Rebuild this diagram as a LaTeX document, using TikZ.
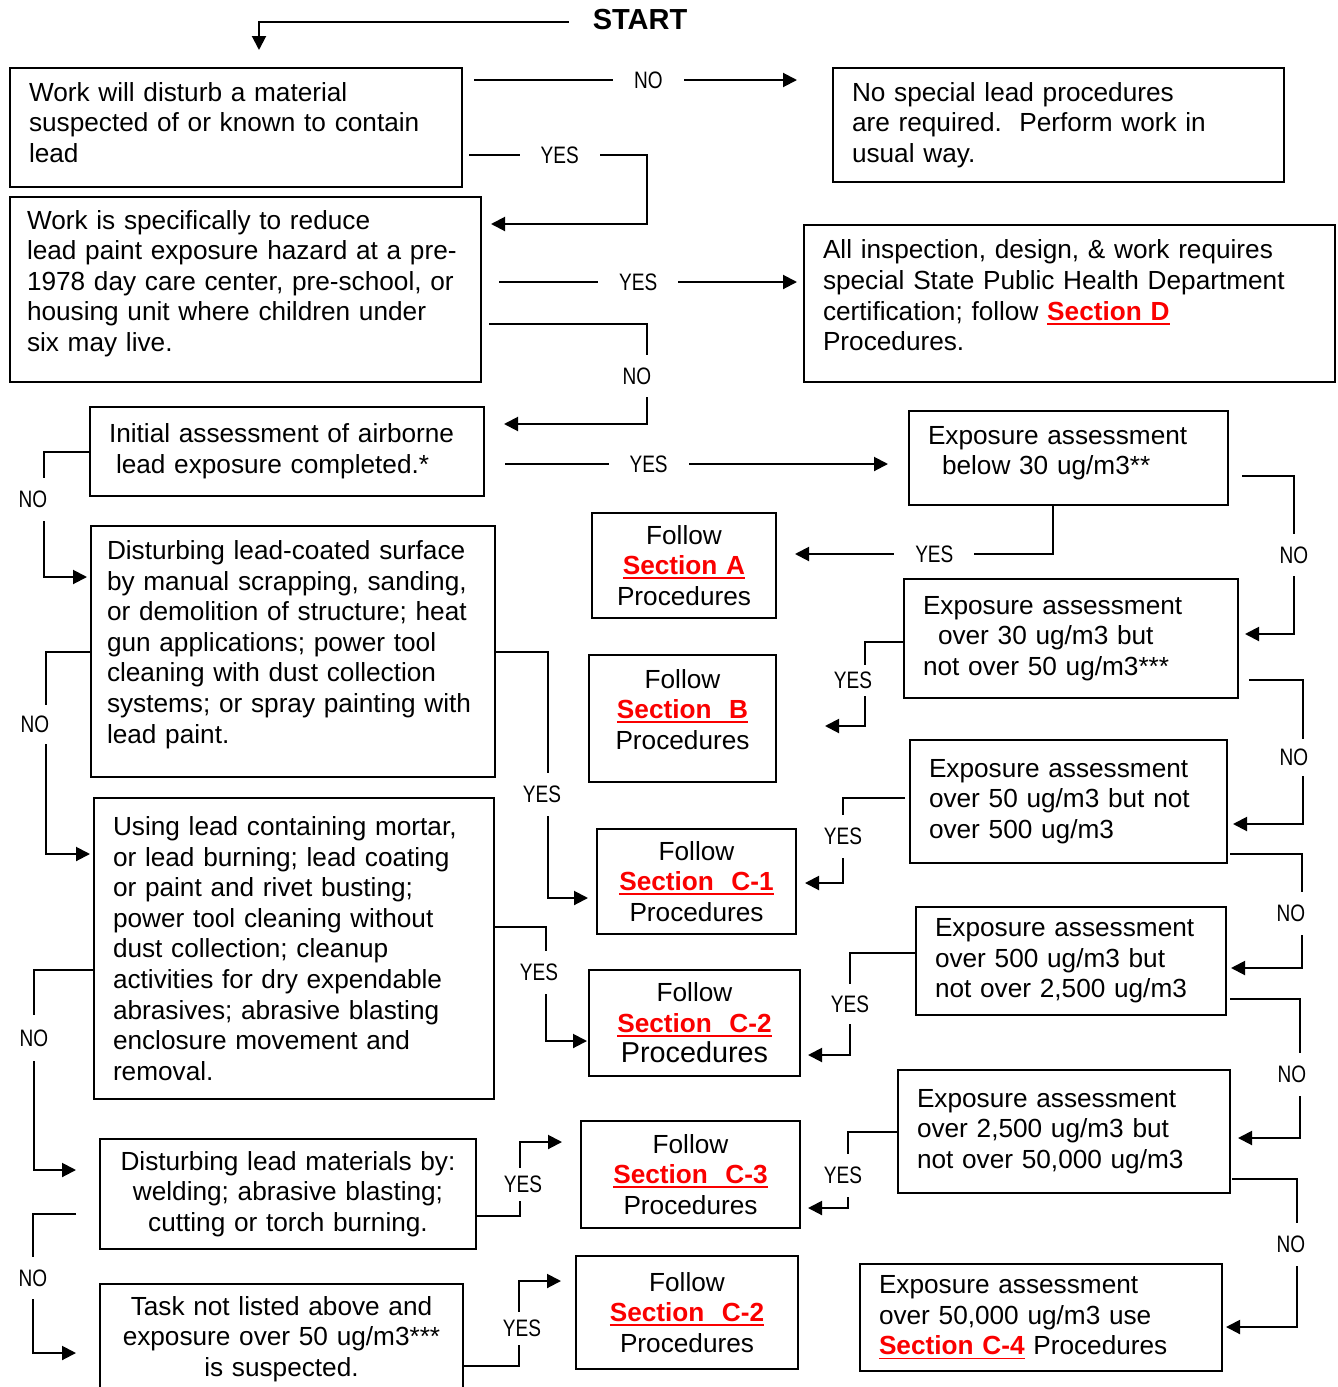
\documentclass[tikz,border=0pt]{standalone}
\usepackage{fontspec}
\setmainfont{Liberation Sans}
\newfontfamily\lblfont[FakeStretch=0.8]{Liberation Sans}
\usetikzlibrary{calc,arrows.meta}
\definecolor{sectred}{RGB}{250,0,0}
\newlength\sectwd
\newcommand{\sectlink}[1]{\settowidth\sectwd{\bfseries #1}%
  \textcolor{sectred}{\bfseries\rlap{\rule[-2.2pt]{\sectwd}{0.9pt}}#1}}
\newcommand{\padbelow}[1]{\par\nointerlineskip\vbox to #1{}}

\begin{document}
\begin{tikzpicture}[x=0.5pt,y=-0.5pt,>={Triangle[length=7pt,width=7pt]},
  box/.style={draw,line width=1pt,anchor=north west,inner xsep=9.5pt,inner ysep=0pt,
    align=left,font={\fontsize{13.1}{15.3}\selectfont}},
  follow/.style={box,inner xsep=2pt,align=center},
  hlbl/.style={fill=white,font={\lblfont\fontsize{11.9}{13}\selectfont},inner xsep=10.5pt,inner ysep=1pt},
  vlbl/.style={fill=white,font={\lblfont\fontsize{11.9}{13}\selectfont},inner xsep=1pt,inner ysep=6.5pt},
  conn/.style={line width=1pt}]
  \useasboundingbox (0,0) rectangle (1338,1387);

  \node[font={\bfseries\fontsize{14.5}{17}\selectfont}] (start) at (640,20) {START};

  \node[box,text width=207pt,minimum height=59.5pt] (b1) at (9,67)
    {Work will disturb a material\\suspected of or known to contain\\lead\padbelow{5pt}};
  \node[box,text width=206.5pt,minimum height=57pt] (b2) at (832,67)
    {No special lead procedures\\are required.\ \ Perform work in\\usual way.};
  \node[box,inner xsep=8.5pt,text width=218.5pt,minimum height=92.5pt] (b3) at (9,196)
    {Work is specifically to reduce\\lead paint exposure hazard at a pre-\\1978 day care center, pre-school, or\\housing unit where children under\\six may live.\padbelow{6pt}};
  \node[box,text width=246.5pt,minimum height=78.5pt] (b4) at (803,224)
    {All inspection, design, \& work requires\\special State Public Health Department\\certification; follow \sectlink{Section D}\\Procedures.\padbelow{8pt}};
  \node[box,text width=178pt,minimum height=44.5pt] (b5) at (89,406)
    {Initial assessment of airborne\\\hspace*{3.5pt}lead exposure completed.*};
  \node[box,text width=140.5pt,minimum height=47pt] (b6) at (908,410)
    {Exposure assessment\\\hspace*{7pt}below 30 ug/m3**\padbelow{5pt}};
  \node[box,inner xsep=8pt,text width=186pt,minimum height=125.5pt] (b7) at (90,525)
    {Disturbing lead-coated surface\\by manual scrapping, sanding,\\or demolition of structure; heat\\gun applications; power tool\\cleaning with dust collection\\systems; or spray painting with\\lead paint.\padbelow{7pt}};
  \node[follow,text width=88pt,minimum height=52.5pt] (b8) at (591,512)
    {Follow\\\sectlink{Section A}\\Procedures};
  \node[box,text width=148pt,minimum height=59.5pt] (b9) at (903,578)
    {Exposure assessment\\\hspace*{7.5pt}over 30 ug/m3 but\\not over 50 ug/m3***};
  \node[follow,text width=89.5pt,minimum height=63.5pt] (b10) at (588,654)
    {Follow\\\sectlink{Section\ \ B}\\Procedures\padbelow{9pt}};
  \node[box,text width=139.5pt,minimum height=61.5pt] (b11) at (909,739)
    {Exposure assessment\\over 50 ug/m3 but not\\over 500 ug/m3};
  \node[follow,text width=95.5pt,minimum height=52.5pt] (b12) at (596,828)
    {Follow\\\sectlink{Section\ \ C-1}\\Procedures};
  \node[box,text width=136pt,minimum height=54pt] (b13) at (915,906)
    {Exposure assessment\\over 500 ug/m3 but\\not over 2,500 ug/m3};
  \node[follow,text width=101.5pt,minimum height=53pt] (b14) at (588,969)
    {Follow\\\sectlink{Section\ \ C-2}\\{\fontsize{14.4}{15.3}\selectfont Procedures}};
  \node[box,text width=181pt,minimum height=150.5pt] (b15) at (93,797)
    {Using lead containing mortar,\\or lead burning; lead coating\\or paint and rivet busting;\\power tool cleaning without\\dust collection; cleanup\\activities for dry expendable\\abrasives; abrasive blasting\\enclosure movement and\\removal.};
  \node[follow,text width=184pt,minimum height=55pt] (b16) at (99,1138)
    {Disturbing lead materials by:\\welding; abrasive blasting;\\cutting or torch burning.};
  \node[follow,text width=105.5pt,minimum height=53.5pt] (b17) at (580,1120)
    {Follow\\\sectlink{Section\ \ C-3}\\Procedures};
  \node[box,text width=147pt,minimum height=61.5pt] (b18) at (897,1069)
    {Exposure assessment\\over 2,500 ug/m3 but\\not over 50,000 ug/m3};
  \node[box,text width=162pt,minimum height=53.5pt] (b19) at (859,1263)
    {Exposure assessment\\over 50,000 ug/m3 use\\\sectlink{Section C-4} Procedures};
  \node[follow,text width=177.5pt,minimum height=55pt] (b20) at (99,1283)
    {Task not listed above and\hspace*{6pt}\\exposure over 50 ug/m3***\hspace*{6pt}\\is suspected.\hspace*{6pt}};
  \node[follow,text width=107pt,minimum height=56.5pt] (b21) at (575,1255)
    {Follow\\\sectlink{Section\ \ C-2}\\Procedures};

  \draw[conn,->] ($(start.west)+(-17,2)$) -| ($(b1.north)+(23,-17)$);
  \draw[conn,->] ($(b1.north east)+(11,13)$) -- node[hlbl,pos=.54]{NO} ($(b2.north west)+(-35,13)$);
  \draw[conn,->] ($(b1.south east)+(6,-33)$) -- node[hlbl,pos=.51]{YES} ++(178,0) |- ($(b3.north east)+(9,28)$);
  \draw[conn,->] ($(b3.north east)+(17,86)$) -- node[hlbl,pos=.467]{YES} ($(b4.north west)+(-6,58)$);
  \draw[conn,->] ($(b3.north east)+(7,128)$) -- ++(158,0) |- node[vlbl,pos=.26,xshift=-5pt]{NO} ($(b5.north east)+(19,18)$);
  \draw[conn,->] ($(b5.east)+(20,12.5)$) -- node[hlbl,pos=.375]{YES} ($(b6.west)+(-20,6)$);
  \draw[conn,->] (b5.west) -- ++(-45,0) |- node[vlbl,pos=.19,xshift=-5.5pt]{NO} ($(b7.west)+(-3,-74.5)$);
  \draw[conn,->] ($(b6.south)+(-15.5,0)$) |- node[hlbl,pos=.73]{YES} ($(b8.east)+(18,-11.5)$);
  \draw[conn,->] ($(b6.east)+(13,18)$) -- ++(52,0) |- node[vlbl,pos=.25]{NO} ($(b9.east)+(6,-4.5)$);
  \draw[conn,->] ($(b9.west)+(0,3.5)$) -- ++(-38,0) |- node[vlbl,pos=.23,xshift=-6pt,inner ysep=3.5pt]{YES} ($(b10.east)+(48,7.5)$);
  \draw[conn,->] ($(b9.east)+(10,41.5)$) -- ++(54,0) |- node[vlbl,pos=.27,xshift=-4.5pt,inner ysep=5pt]{NO} ($(b11.east)+(5,22.5)$);
  \draw[conn,->] ($(b11.west)+(-4,-3.5)$) -- ++(-62,0) |- node[vlbl,pos=.225]{YES} ($(b12.east)+(8,1.5)$);
  \draw[conn,->] (b7.east) -- ++(52,0) |- node[vlbl,pos=.29,xshift=-3pt]{YES} ($(b12.west)+(-8,16.5)$);
  \draw[conn,->] (b7.west) -- ++(-44,0) |- node[vlbl,pos=.18,xshift=-5.5pt,inner ysep=5.5pt]{NO} ($(b15.west)+(-3,-94.5)$);
  \draw[conn,->] ($(b11.south east)+(2,-10)$) -- ++(72,0) |- node[vlbl,pos=.26,xshift=-5.5pt]{NO} ($(b13.east)+(4,7)$);
  \draw[conn,->] ($(b13.west)+(0,-8)$) -- ++(-65,0) |- node[vlbl,pos=.25,inner ysep=6pt]{YES} ($(b14.east)+(7,32)$);
  \draw[conn,->] ($(b15.east)+(0,-21.5)$) -- ++(51,0) |- node[vlbl,pos=.2,xshift=-3.5pt]{YES} ($(b14.west)+(-1,18)$);
  \draw[conn,->] ($(b15.west)+(0,21.5)$) -- ++(-59,0) |- node[vlbl,pos=.17,inner ysep=7.5pt]{NO} ($(b16.west)+(-23,-24)$);
  \draw[conn,->] ($(b16.east)+(0,22)$) -- ++(43,0) |- node[vlbl,pos=.215,xshift=1.5pt,inner ysep=4pt]{YES} ($(b17.west)+(-18,-32.5)$);
  \draw[conn,->] ($(b13.south east)+(3,-17)$) -- ++(70,0) |- node[vlbl,pos=.27,xshift=-4pt]{NO} ($(b18.east)+(7,6.5)$);
  \draw[conn,->] (b18.west) -- ++(-49,0) |- node[vlbl,pos=.285,xshift=-2.5pt]{YES} ($(b17.east)+(7,33.5)$);
  \draw[conn,->] ($(b18.south east)+(1,-15)$) -- ++(65,0) |- node[vlbl,pos=.22,xshift=-3pt]{NO} ($(b19.east)+(3,9.5)$);
  \draw[conn,->] ($(b16.west)+(-23,20)$) -- ++(-43,0) |- node[vlbl,pos=.23]{NO} ($(b20.west)+(-23,14)$);
  \draw[conn,->] ($(b20.east)+(0,27)$) -- ++(55,0) |- node[vlbl,pos=.22,xshift=1.5pt,inner ysep=4pt]{YES} ($(b21.west)+(-14,-31.5)$);
\end{tikzpicture}
\end{document}
